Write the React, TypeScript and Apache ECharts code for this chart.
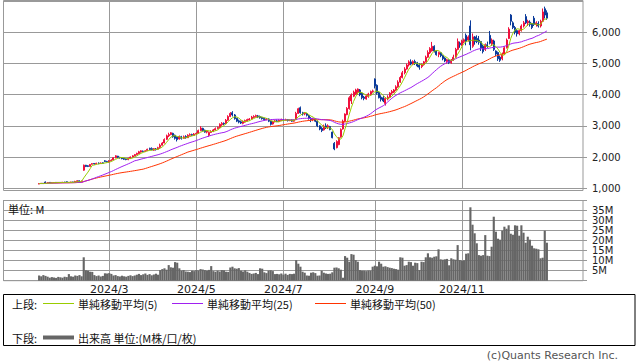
import React, { useEffect, useRef } from "react";
import * as echarts from "echarts";

// Daily OHLC (JPY) from 2024-01-12 onward, and volume in millions of shares
const opens = [
  1140,1150,1160,1200,1170,1190,1175,1180,1190,1180,
  1190,1185,1195,1210,1185,1190,1200,1190,1215,1240,
  1225,1580,1740,1720,1700,1770,1795,1780,1805,1790,
  1815,1880,1860,1840,1880,1910,1980,2030,1990,1980,
  1960,1940,1920,1960,2000,2040,2080,2110,2160,2190,
  2180,2210,2280,2270,2220,2260,2250,2310,2380,2450,
  2570,2680,2720,2760,2700,2640,2580,2650,2600,2660,
  2620,2700,2720,2690,2740,2760,2850,2920,2860,2800,
  2700,2790,2820,2870,2910,2950,3040,3080,3070,3180,
  3300,3420,3350,3240,3160,3130,3080,3120,3160,3190,
  3220,3270,3300,3320,3300,3270,3240,3200,3220,3150,
  3060,3130,3160,3140,3170,3200,3180,3200,3170,3190,
  3150,3200,3400,3580,3420,3380,3390,3330,3240,3200,
  3210,3150,3000,2920,2870,3000,2960,2980,2800,2440,
  2300,2400,2650,2900,3150,3360,3550,3800,3950,4020,
  4080,4150,4050,3920,3860,3940,4000,4100,4500,4300,
  4080,3920,3900,3720,3860,3920,4050,4080,4150,4250,
  4400,4550,4700,4820,4950,5050,4980,5060,5020,4950,
  4900,4960,5050,5200,5340,5400,5550,5400,5290,5340,
  5250,5170,5060,5100,5020,5100,5200,5450,5650,5580,
  5700,5900,5750,6200,5550,5850,5800,5750,5700,5550,
  5450,5600,5900,5620,5720,5400,5350,5200,5150,5300,
  5500,5800,6550,6300,6150,6050,5950,6050,6200,6500,
  6300,6320,6280,6450,6250,6280,6200,6350,6750,6620,
];
const closes = [
  1150,1160,1150,1170,1180,1175,1180,1185,1180,1190,
  1185,1195,1190,1185,1190,1200,1195,1220,1240,1225,
  1230,1740,1700,1700,1760,1790,1780,1800,1790,1810,
  1800,1860,1850,1880,1900,1980,2040,1990,1980,1950,
  1930,1920,1960,2000,2040,2080,2120,2170,2200,2180,
  2200,2250,2240,2230,2270,2240,2300,2380,2450,2560,
  2680,2720,2780,2650,2600,2560,2660,2600,2650,2620,
  2700,2720,2700,2740,2760,2850,2930,2850,2800,2830,
  2790,2820,2870,2910,2950,3050,3080,3060,3180,3300,
  3400,3350,3230,3150,3120,3090,3140,3170,3200,3220,
  3280,3300,3330,3290,3260,3230,3200,3220,3150,3050,
  3130,3160,3140,3180,3200,3180,3200,3170,3190,3150,
  3180,3400,3550,3420,3380,3400,3340,3240,3200,3220,
  3150,3000,2900,2850,2990,2950,3000,2880,2620,2260,
  2500,2620,2880,3150,3380,3560,3900,3990,4080,4150,
  4180,4000,3900,3880,3960,4020,4100,4120,4280,4050,
  3900,3850,3800,3880,3920,4050,4100,4150,4250,4400,
  4550,4700,4820,4950,5050,4980,5060,5000,4920,4880,
  4960,5050,5200,5350,5480,5550,5400,5280,5350,5250,
  5150,5080,5120,5030,5100,5200,5450,5700,5600,5720,
  5760,5700,5850,5600,5850,5700,5700,5680,5500,5380,
  5600,5550,5650,5750,5450,5300,5150,5100,5300,5500,
  5750,6100,6350,6150,6000,5950,6050,6200,6300,6300,
  6350,6250,6150,6250,6300,6200,6350,6650,6550,6450,
];
const lows = [
  1130,1140,1140,1160,1160,1170,1170,1170,1175,1175,
  1180,1180,1185,1180,1180,1185,1190,1185,1200,1210,
  1215,1560,1680,1680,1690,1760,1760,1770,1770,1780,
  1780,1840,1830,1820,1870,1900,1960,1970,1950,1930,
  1910,1900,1900,1950,1990,2020,2060,2100,2140,2160,
  2160,2190,2220,2220,2200,2210,2240,2290,2370,2440,
  2550,2640,2700,2620,2560,2500,2560,2560,2590,2590,
  2610,2680,2680,2680,2720,2750,2830,2820,2780,2760,
  2650,2770,2800,2850,2890,2930,3000,3030,3060,3160,
  3280,3300,3200,3120,3080,3060,3050,3100,3140,3170,
  3200,3250,3270,3250,3230,3200,3170,3180,3120,3010,
  3040,3110,3120,3120,3150,3160,3160,3140,3150,3130,
  3130,3180,3380,3390,3330,3340,3300,3200,3120,3150,
  3120,2960,2860,2800,2850,2900,2900,2860,2600,2220,
  2280,2380,2620,2880,3120,3340,3520,3700,3920,3990,
  4000,3950,3850,3820,3840,3900,3970,4060,4200,4000,
  3880,3780,3760,3650,3820,3900,4000,4050,4120,4220,
  4380,4520,4650,4800,4900,4940,4950,4950,4880,4800,
  4850,4930,5030,5180,5300,5380,5350,5250,5200,5200,
  5100,5040,4990,4980,4990,5080,5180,5420,5500,5550,
  5650,5580,5700,5420,5500,5600,5650,5600,5400,5320,
  5400,5500,5610,5560,5400,5240,5080,5050,5100,5280,
  5480,5780,6220,6100,5930,5860,5900,6020,6150,6260,
  6200,6180,6100,6200,6180,6150,6150,6330,6440,6400,
];
const highs = [
  1160,1170,1170,1220,1190,1200,1190,1195,1200,1200,
  1200,1205,1210,1220,1200,1210,1210,1240,1260,1250,
  1245,1760,1750,1740,1780,1810,1810,1820,1830,1830,
  1830,1900,1880,1900,1930,2000,2060,2040,2010,1990,
  1970,1960,1980,2020,2060,2100,2140,2200,2220,2210,
  2220,2270,2300,2310,2290,2290,2330,2430,2480,2600,
  2720,2780,2800,2780,2720,2660,2690,2680,2690,2700,
  2730,2760,2750,2770,2790,2880,2990,2940,2880,2860,
  2820,2860,2900,2950,2980,3080,3120,3110,3220,3340,
  3440,3470,3380,3260,3200,3170,3170,3200,3230,3250,
  3320,3340,3360,3350,3330,3290,3260,3250,3240,3170,
  3160,3190,3200,3210,3230,3220,3230,3220,3210,3210,
  3200,3450,3580,3620,3450,3440,3410,3350,3280,3260,
  3240,3170,3020,2960,3040,3080,3050,3000,2820,2480,
  2540,2640,2920,3200,3400,3600,3950,4040,4130,4190,
  4200,4180,4080,3960,4000,4060,4130,4160,4520,4330,
  4100,3980,3960,3920,3980,4080,4150,4180,4300,4460,
  4600,4760,4880,5000,5100,5130,5100,5120,5050,5000,
  5000,5080,5250,5420,5520,5690,5580,5420,5380,5360,
  5280,5200,5150,5130,5140,5280,5500,5800,5700,5760,
  5800,5960,5900,6380,5960,5880,5900,5880,5720,5600,
  5640,5700,6040,5800,5760,5420,5380,5250,5350,5550,
  5800,6160,6580,6350,6200,6100,6080,6250,6360,6580,
  6400,6380,6300,6520,6350,6350,6400,6760,6820,6700,
];
const volumes = [
  2.6,2.2,2.8,2.4,2.0,1.5,1.8,1.6,1.4,1.9,
  1.7,1.5,2.0,1.8,3.3,2.2,2.0,2.6,2.4,2.8,
  2.2,11.7,5.2,5.0,4.5,4.4,2.8,2.3,2.6,2.1,
  2.4,3.7,3.6,3.8,3.4,2.6,2.8,2.3,2.1,2.5,
  2.2,2.0,2.4,2.7,2.3,2.6,3.0,3.4,2.8,3.2,
  3.6,2.9,3.3,2.7,3.1,3.5,3.0,5.3,5.8,6.2,
  5.5,7.8,6.7,6.5,9.3,9.0,6.2,5.0,5.3,4.6,
  4.5,4.3,5.0,4.8,5.3,5.1,5.8,5.6,5.3,5.0,
  5.4,7.3,4.8,4.5,5.0,4.6,5.3,5.2,4.5,4.4,
  6.6,7.0,6.2,6.0,6.3,5.0,4.6,5.2,4.5,3.9,
  3.4,3.6,3.9,3.3,6.2,6.0,4.2,3.8,5.0,5.2,
  4.8,3.3,3.4,3.2,3.6,3.0,3.5,2.9,3.4,3.3,
  3.5,10.3,8.5,7.0,4.5,4.0,2.6,2.5,4.0,4.2,
  3.8,2.5,2.6,5.0,4.0,3.6,3.4,3.5,4.2,6.5,
  6.6,6.2,5.5,1.5,12.3,11.5,9.5,13.3,13.0,10.3,
  9.5,5.3,5.0,5.0,4.8,5.1,5.0,7.0,7.5,7.2,
  9.5,8.5,7.0,7.2,6.8,6.5,6.3,6.0,5.8,5.5,
  11.7,11.5,7.5,7.8,9.5,9.3,7.5,9.0,8.8,5.3,
  9.5,9.3,11.7,13.7,11.7,11.5,12.0,12.2,15.7,10.7,
  10.5,10.7,10.9,7.7,11.2,10.7,10.5,17.8,10.3,10.0,
  10.2,13.5,13.7,36.7,28.0,23.7,18.7,12.8,12.5,12.8,
  22.8,12.5,12.3,17.0,32.0,24.5,21.0,20.5,25.0,27.0,
  26.0,27.7,23.5,23.0,27.7,27.5,22.5,27.7,24.0,19.0,
  22.0,20.5,17.5,16.2,16.0,15.7,11.2,11.5,25.0,19.0,
];
// trading-day index (from first candle) of the first session of each labelled month
const monthStartIdx = [33, 74, 115, 158, 199];
const monthLabels = ["2024/3", "2024/5", "2024/7", "2024/9", "2024/11"];
const maPeriods = [5, 25, 50];
const maColors = ["#99cc00", "#a020f0", "#ff3300"];
const maNames = ["単純移動平均(5)", "単純移動平均(25)", "単純移動平均(50)"];

const LEAD = 17; // empty sessions drawn before the first candle
const TOTAL = 274; // total category slots across the plot

const UP = "#f0103c";
const DOWN = "#0a3a9a";
const GRID = "#999999";
const NUM_FONT = "DejaVu Sans";
const JP_FONT = '"Noto Sans CJK JP", "Noto Sans", sans-serif';

function movingAverage(n: number) {
  return closes.map((_, i) => {
    const s = Math.max(0, i - n + 1);
    let sum = 0;
    for (let k = s; k <= i; k++) sum += closes[k];
    return [LEAD + i, Math.round((sum / (i - s + 1)) * 10) / 10];
  });
}

export default function App() {
  const ref = useRef<HTMLDivElement>(null);
  useEffect(() => {
    if (!ref.current) return;
    const chart = echarts.init(ref.current, undefined, { renderer: "svg" });
    const cats = Array.from({ length: TOTAL }, (_, k) => String(k));
    const monthSlots = monthStartIdx.map((m) => LEAD + m);
    const isMonth = (idx: number) => monthSlots.indexOf(idx) >= 0;
    const labelOf = (idx: number) => {
      const p = monthSlots.indexOf(idx);
      return p >= 0 ? monthLabels[p] : "";
    };
    const candleData = closes.map((c, i) => [LEAD + i, opens[i], c, lows[i], highs[i]]);
    const volData = volumes.map((v, i) => [LEAD + i, v]);

    const xBase = (gridIndex: number, showLabels: boolean) => ({
      type: "category",
      gridIndex,
      data: cats,
      boundaryGap: false,
      axisLine: { show: false },
      axisTick: { show: false },
      axisLabel: showLabels
        ? {
            show: true,
            interval: (idx: number) => isMonth(idx),
            formatter: (_v: string, idx: number) => labelOf(idx),
            fontFamily: NUM_FONT,
            fontSize: 11,
            color: "#222",
            margin: 3,
          }
        : { show: false },
      splitLine: {
        show: true,
        interval: (idx: number) => isMonth(idx),
        lineStyle: { color: GRID, width: 1 },
      },
    });

    const option: any = {
      animation: false,
      grid: [
        { left: 3, right: 55, top: 1, height: 187.3 },
        { left: 3, right: 55, top: 200.7, height: 80 },
      ],
      xAxis: [xBase(0, false), xBase(1, true)],
      yAxis: [
        {
          type: "value",
          gridIndex: 0,
          position: "right",
          min: 1000,
          max: 7000,
          interval: 1000,
          axisLine: { show: false },
          axisTick: { show: true, length: 4, lineStyle: { color: GRID } },
          axisLabel: {
            margin: 9,
            showMaxLabel: false,
            fontFamily: NUM_FONT,
            fontSize: 10,
            color: "#222",
            formatter: (v: number) => (v >= 7000 ? "" : v.toLocaleString("en-US")),
          },
          splitLine: { show: true, lineStyle: { color: GRID, width: 1 } },
        },
        {
          type: "value",
          gridIndex: 1,
          position: "right",
          min: 0,
          max: 40,
          interval: 5,
          axisLine: { show: false },
          axisTick: { show: true, length: 4, lineStyle: { color: GRID } },
          axisLabel: {
            margin: 9,
            fontFamily: NUM_FONT,
            fontSize: 10,
            color: "#222",
            formatter: (v: number) => (v > 0 && v < 40 ? v + "M" : ""),
          },
          splitLine: { show: true, lineStyle: { color: GRID, width: 1 } },
        },
      ],
      series: [
        {
          type: "candlestick",
          xAxisIndex: 0,
          yAxisIndex: 0,
          data: candleData,
          encode: { x: 0, y: [1, 2, 3, 4] },
          barWidth: 1.5,
          itemStyle: {
            color: UP,
            color0: DOWN,
            borderColor: UP,
            borderColor0: DOWN,
            borderWidth: 1,
          },
          z: 2,
        },
        ...maPeriods.map((n, k) => ({
          type: "line",
          xAxisIndex: 0,
          yAxisIndex: 0,
          data: movingAverage(n),
          showSymbol: false,
          symbol: "none",
          lineStyle: { color: maColors[k], width: 1 },
          z: 3 + (2 - k),
        })),
        {
          type: "bar",
          xAxisIndex: 1,
          yAxisIndex: 1,
          data: volData,
          barCategoryGap: "0%",
          barWidth: 2.13,
          itemStyle: { color: "#666666" },
        },
      ],
      graphic: [
        {
          type: "rect",
          shape: { x: 3.5, y: 0.5, width: 579.5, height: 190 },
          style: { fill: "none", stroke: GRID, lineWidth: 1 },
          silent: true,
        },
        {
          type: "rect",
          shape: { x: 3.5, y: 200.5, width: 579.5, height: 80.2 },
          style: { fill: "none", stroke: GRID, lineWidth: 1 },
          silent: true,
        },
        {
          type: "text",
          style: {
            text: "単位: M",
            x: 8,
            y: 209,
            font: `11px ${JP_FONT}`,
            fill: "#111",
            verticalAlign: "middle",
            textVerticalAlign: "middle",
          },
          z: 10,
        },
        {
          type: "rect",
          shape: { x: 3.5, y: 294.5, width: 631.5, height: 51 },
          style: { fill: "none", stroke: "#000", lineWidth: 1 },
          silent: true,
        },
        {
          type: "text",
          style: { text: "上段:", x: 12, y: 303.5, font: `11px ${JP_FONT}`, fill: "#111", verticalAlign: "middle", textVerticalAlign: "middle" },
        },
        ...maPeriods.flatMap((_n, k) => {
          const lx = [43, 172, 315][k];
          return [
            {
              type: "line",
              shape: { x1: lx, y1: 303.5, x2: lx + 31, y2: 303.5 },
              style: { stroke: maColors[k], lineWidth: 1 },
            },
            {
              type: "text",
              style: {
                text: maNames[k],
                x: lx + 35,
                y: 303.5,
                font: `11px ${JP_FONT}`,
                fill: "#111",
                verticalAlign: "middle",
                textVerticalAlign: "middle",
              },
            },
          ];
        }),
        {
          type: "text",
          style: { text: "下段:", x: 12, y: 337.5, font: `11px ${JP_FONT}`, fill: "#111", verticalAlign: "middle", textVerticalAlign: "middle" },
        },
        {
          type: "rect",
          shape: { x: 43, y: 335.5, width: 31, height: 4 },
          style: { fill: "#666666" },
        },
        {
          type: "text",
          style: {
            text: "出来高 単位:(M株/口/枚)",
            x: 78,
            y: 337.5,
            font: `11px ${JP_FONT}`,
            fill: "#111",
            verticalAlign: "middle",
            textVerticalAlign: "middle",
          },
        },
        {
          type: "text",
          style: {
            text: "(c)Quants Research Inc.",
            x: 618,
            y: 355.5,
            font: `11px ${NUM_FONT}`,
            fill: "#555",
            align: "right",
            textAlign: "right",
            verticalAlign: "middle",
            textVerticalAlign: "middle",
          },
        },
      ],
    };
    chart.setOption(option);
    return () => chart.dispose();
  }, []);
  return <div ref={ref} style={{ width: 638, height: 362, position: "absolute", left: 0, top: 0 }} />;
}
